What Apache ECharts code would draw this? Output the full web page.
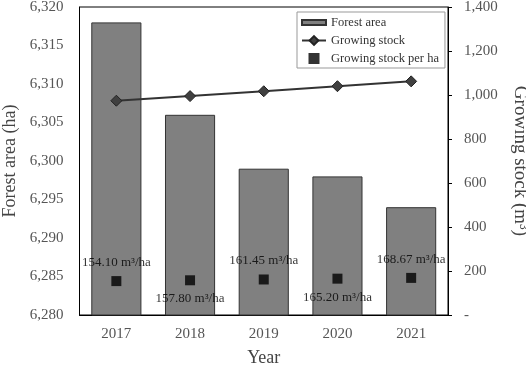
<!DOCTYPE html>
<html><head><meta charset="utf-8">
<script src="https://cdn.jsdelivr.net/npm/echarts@6/dist/echarts.min.js"></script>
<style>html,body{margin:0;padding:0;background:#fff}#c{width:526px;height:368px}</style>
</head><body><div id="c"></div>
<script>
var years = ['2017','2018','2019','2020','2021'];
var forestArea = [6318, 6306, 6299, 6298, 6294];
var growingStock = [974, 995, 1017, 1040, 1062];
var stockPerHa = [154.10, 157.80, 161.45, 165.20, 168.67];
var labelPos = ['top','bottom','top','bottom','top'];

var serif = '"Liberation Serif", "DejaVu Serif", serif';
var chart = echarts.init(document.getElementById('c'), null, {renderer:'canvas'});
chart.setOption({
  animation:false,
  backgroundColor:'#fff',
  textStyle:{fontFamily:serif},
  grid:{left:79.5, right:78, top:7, bottom:53, containLabel:false, outerBoundsMode:'none',
    show:true, borderColor:'#000', borderWidth:1, backgroundColor:'transparent'},
  legend:{
    orient:'vertical', left:297, top:12, width:137,
    backgroundColor:'#fff', borderColor:'#999', borderWidth:1, padding:[4,6,3,4],
    itemGap:5, itemWidth:24, itemHeight:11,
    textStyle:{fontFamily:serif, fontSize:12.5, color:'#333'},
    data:[
      {name:'Forest area', icon:'path://M0,3L24,3L24,8L0,8Z'},
      {name:'Growing stock'},
      {name:'Growing stock per ha', icon:'path://M0,0L10,0L10,10L0,10Z'}
    ]
  },
  xAxis:{
    type:'category', data:years,
    name:'Year', nameLocation:'middle', nameGap:34,
    nameTextStyle:{fontFamily:serif, fontSize:18, color:'#444'},
    axisLine:{lineStyle:{color:'#000'}}, axisTick:{show:false},
    axisLabel:{fontFamily:serif, fontSize:15, color:'#555', margin:12}
  },
  yAxis:[{
    type:'value', min:6280, max:6320, interval:5,
    name:'Forest area (ha)', nameLocation:'middle', nameGap:56, nameRotate:90,
    nameTextStyle:{fontFamily:serif, fontSize:18, color:'#444'},
    axisLine:{show:true, lineStyle:{color:'#000'}}, axisTick:{show:false}, splitLine:{show:false},
    axisLabel:{fontFamily:serif, fontSize:15, color:'#555', margin:16,
      formatter:function(v){return v.toLocaleString('en-US');}}
  },{
    type:'value', min:0, max:1400, interval:200, position:'right',
    name:'Growing stock (m³)', nameLocation:'middle', nameGap:62, nameRotate:-90,
    nameTextStyle:{fontFamily:serif, fontSize:19, color:'#444'},
    axisLine:{show:true, lineStyle:{color:'#000'}},
    axisTick:{show:true, inside:false, length:4, lineStyle:{color:'#000'}}, splitLine:{show:false},
    axisLabel:{fontFamily:serif, fontSize:15, color:'#555', margin:16,
      formatter:function(v){return v===0?'-':v.toLocaleString('en-US');}}
  }],
  series:[{
    name:'Forest area', type:'bar', yAxisIndex:0, data:forestArea,
    barCategoryGap:'32%',
    itemStyle:{color:'#808080', borderColor:'#333', borderWidth:1}
  },{
    name:'Growing stock', type:'line', yAxisIndex:1, data:growingStock,
    symbol:'diamond', symbolSize:11,
    lineStyle:{color:'#333', width:2},
    itemStyle:{color:'#404040', borderColor:'#222', borderWidth:1}
  },{
    name:'Growing stock per ha', type:'scatter', yAxisIndex:1,
    symbol:'rect', symbolSize:10, symbolKeepAspect:true,
    itemStyle:{color:'#000'},
    data:stockPerHa.map(function(v,i){
      return {value:v, label:{position:labelPos[i]}};
    }),
    label:{show:true, fontFamily:serif, fontSize:13, color:'#000', distance:7,
      formatter:function(p){return p.value.toFixed(2)+' m³/ha';}}
  }]
});
</script></body></html>
